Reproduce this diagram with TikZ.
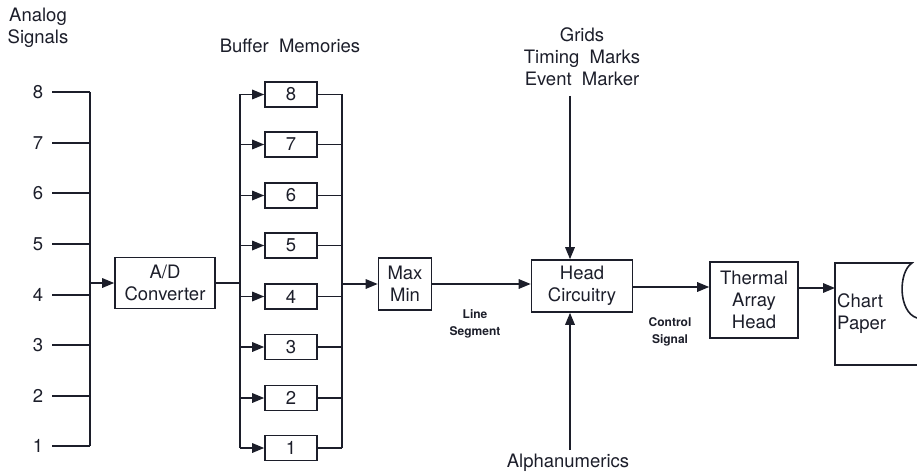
\documentclass[tikz,border=0pt]{standalone}
\usepackage{fontspec}
\setmainfont{TeX Gyre Heros}
\usetikzlibrary{arrows.meta,calc}
\definecolor{ink}{RGB}{28,30,42}
\begin{document}
\begin{tikzpicture}[x=1pt,y=-1pt,
  box/.style={draw=ink, line width=1.6pt, inner sep=0pt, align=center, text=ink, font=\fontsize{18.5}{22}\selectfont},
  lbl/.style={inner sep=0pt, align=center, text=ink, font=\fontsize{18.5}{22}\selectfont},
  small/.style={inner sep=0pt, align=center, text=ink, font=\bfseries\fontsize{12}{17}\selectfont},
  wire/.style={draw=ink, line width=1.6pt},
  arr/.style={wire, -{Triangle[length=12pt,width=9.5pt]}}]
\useasboundingbox (0,0) rectangle (917,473);

% analog inputs
\node[lbl] (analog) at (38,28) {Analog\\Signals};
\foreach \i/\y in {8/92,7/143,6/193,5/244,4/295,3/345,2/396,1/446}{
  \node[lbl] (n\i) at (38,\y) {\i};
  \coordinate (s\i) at (52,\y);
  \coordinate (t\i) at (90,\y);
  \draw[wire] (s\i) -- (t\i);
}
\draw[wire] (t8) -- (t1);

% A/D converter
\node[box, minimum width=100, minimum height=51] (ad) at (165,283) {A/D\\Converter};
\coordinate (adin) at (90,283);
\draw[arr] (adin) -- (ad.west);

% buffer memories
\node[lbl] (bufttl) at (290,46) {Buffer\ \ Memories};
\coordinate (adout) at (240,283);
\draw[wire] (ad.east) -- (adout);
\foreach \i/\y in {8/94.5,7/144.5,6/195.5,5/245.5,4/296.5,3/347,2/398,1/448}{
  \node[box, minimum width=52, minimum height=25] (m\i) at (291,\y) {\i};
  \coordinate (bl\i) at (240,\y);
  \coordinate (br\i) at (342,\y);
  \draw[arr] (bl\i) -- (m\i.west);
  \draw[wire] (m\i.east) -- (br\i);
}
\draw[wire] (bl8) -- (bl1);
\draw[wire] (br8) -- (br1);

% max min
\node[box, minimum width=53, minimum height=52] (mm) at (405,284) {Max\\Min};
\coordinate (mmin) at (342,284);
\draw[arr] (mmin) -- (mm.west);

% head circuitry
\node[box, minimum width=101, minimum height=52] (hd) at (582,286) {Head\\Circuitry};
\draw[arr] (mm.east) -- (mm.east -| hd.west);
\node[small] (lineseg) at (475,323.5) {Line\\Segment};

\node[lbl] (grids) at (582,57) {Grids\\Timing\ \ Marks\\Event\ \ Marker};
\coordinate (gtop) at (570,96);
\draw[arr] (gtop) -- (gtop |- hd.north);
\node[lbl] (alpha) at (568,463) {Alphanumerics};
\coordinate (abot) at (570,450);
\draw[arr] (abot) -- (abot |- hd.south);

% thermal array head
\node[box, minimum width=88, minimum height=76] (th) at (754,300) {Thermal\\Array\\Head};
\coordinate (hdout) at (633,287);
\draw[arr] (hdout) -- (hdout -| th.west);
\node[small] (ctrl) at (670,332) {Control\\Signal};

% chart paper
\draw[wire] (917,365) -- (835,365) -- (835,263) -- (912,263)
  .. controls (898,272) and (898,312) .. (917,318);
\node[lbl, align=left, anchor=west] (chart) at (837,314) {Chart\\Paper};
\coordinate (thout) at (798,288);
\coordinate (cpin) at (835,288);
\draw[arr] (thout) -- (cpin);
\end{tikzpicture}
\end{document}
